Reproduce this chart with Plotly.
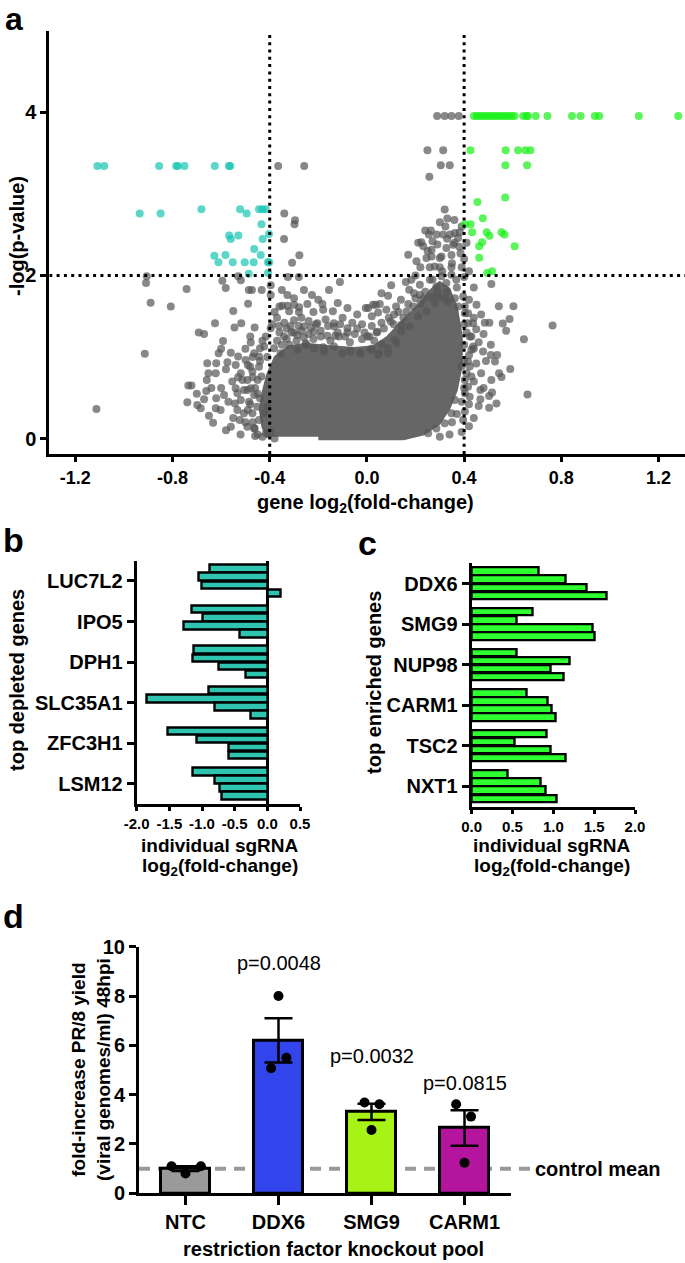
import plotly.graph_objects as go

W, H = 685, 1263
FONT = "Arial, 'Liberation Sans', sans-serif"

# ---------------- Panel a: volcano plot data ----------------
teal_x = [-1.109, -1.081, -0.855, -0.785, -0.778, -0.751, -0.626, -0.568, -0.562,
          -0.681, -0.522, -0.444, -0.430, -0.416,
          -0.935, -0.849, -0.495, -0.434, -0.403, -0.567, -0.529, -0.560, -0.429,
          -0.464, -0.628, -0.582, -0.437, -0.611, -0.552, -0.503, -0.466, -0.407, -0.402,
          -0.407, -0.486]
teal_y = [3.34, 3.34, 3.34, 3.34, 3.34, 3.34, 3.34, 3.34, 3.34,
          2.811, 2.811, 2.811, 2.811, 2.811,
          2.758, 2.758, 2.758, 2.627, 2.508, 2.49, 2.49, 2.446, 2.446,
          2.323, 2.242, 2.25, 2.25, 2.16, 2.16, 2.16, 2.16, 2.16, 2.16,
          2.03, 2.02]

green_x = [0.440, 0.452, 0.464, 0.476, 0.488, 0.500, 0.512, 0.524, 0.536, 0.548,
           0.560, 0.572, 0.584, 0.596, 0.608, 0.643, 0.657, 0.663, 0.695, 0.743,
           0.844, 0.879, 0.938, 0.956, 1.119, 1.281,
           0.426, 0.571, 0.622, 0.652, 0.673,
           0.570, 0.659, 0.569, 0.455, 0.477, 0.403, 0.427, 0.433, 0.493, 0.554,
           0.566, 0.504, 0.474, 0.462, 0.608, 0.462, 0.515, 0.495]
green_y = [3.955] * 26 + [3.533] * 5 + [3.349, 3.349, 2.954, 2.901, 2.70, 2.627, 2.627,
                                       2.528, 2.528, 2.528, 2.50, 2.487, 2.405, 2.356,
                                       2.356, 2.217, 2.05, 2.03]

gray_pts = [
    (0.289, 3.955), (0.320, 3.955), (0.348, 3.955), (0.378, 3.955),
    (0.249, 3.533), (0.314, 3.533), (0.304, 3.349), (0.341, 3.349), (0.257, 3.21),
    (-0.365, 3.34), (-0.258, 3.34),
    (-0.34, 2.76), (-0.296, 2.676), (-0.298, 2.627), (-0.341, 2.446), (-0.278, 2.246), (-0.308, 2.156),
    (-0.906, 1.988), (-0.909, 1.906), (-0.742, 1.832), (-0.89, 1.664), (-0.807, 1.62), (-0.914, 1.04),
    (-1.113, 0.362),
    (-0.595, 1.934), (-0.581, 1.844), (-0.53, 1.988), (-0.519, 1.94), (-0.486, 1.82), (-0.473, 1.82),
    (-0.433, 1.82), (-0.396, 1.88), (-0.396, 1.758), (-0.35, 1.82), (-0.327, 1.76), (-0.348, 1.627),
    (-0.327, 1.627), (-0.30, 1.64), (-0.279, 1.61), (-0.325, 1.98), (-0.28, 1.98), (-0.259, 1.82),
    (-0.226, 1.758), (-0.156, 1.82), (-0.111, 1.92), (-0.245, 1.65), (-0.183, 1.65),
    (-0.55, 1.562), (-0.489, 1.652), (-0.625, 1.414), (-0.692, 1.30), (-0.67, 1.28), (-0.545, 1.36),
    (-0.517, 1.414), (-0.462, 1.36), (-0.592, 1.197), (-0.478, 1.177), (-0.61, 1.046), (-0.53, 1.005),
    (-0.574, 0.935), (-0.54, 0.90), (-0.657, 0.923), (-0.62, 0.923), (-0.652, 0.80), (-0.622, 0.80),
    (-0.49, 0.90), (-0.48, 0.88), (-0.659, 0.718), (-0.735, 0.65), (-0.722, 0.65), (-0.661, 0.583),
    (-0.739, 0.444), (-0.698, 0.41), (-0.684, 0.37), (-0.62, 0.493), (-0.588, 0.534), (-0.622, 0.37),
    (-0.602, 0.35), (-0.633, 0.194), (-0.56, 0.145), (-0.523, 0.227), (-0.492, 0.145), (-0.464, 0.125),
    (-0.543, 0.43), (-0.533, 0.35), (-0.492, 0.718), (-0.492, 0.595), (-0.54, 0.616), (-0.506, 0.595),
    (-0.45, 0.718), (-0.444, 0.88), (-0.464, 1.046), (-0.44, 1.107), (-0.396, 1.353),
    (-0.478, 0.616), (-0.464, 0.534), (-0.485, 0.452), (-0.451, 0.39), (-0.471, 0.309), (-0.444, 0.227),
    (-0.462, 0.124), (-0.434, 0.759), (-0.44, 0.493), (-0.423, 0.309), (-0.416, 0.063), (-0.396, 0.083),
    (-0.506, 0.309), (-0.519, 0.473), (-0.512, 0.718), (-0.533, 0.554), (-0.554, 0.698), (-0.499, 0.964),
    (-0.519, 0.80), (-0.471, 0.82), (-0.444, 1.005), (-0.423, 1.128), (-0.416, 1.25),
    (-0.382, 1.107), (-0.355, 1.046), (-0.32, 1.148), (-0.286, 1.087), (-0.252, 1.169), (-0.218, 1.107),
    (-0.176, 1.066), (-0.135, 1.128), (-0.101, 1.046), (-0.067, 1.066), (-0.026, 1.046), (0.016, 1.087),
    (0.05, 1.046), (-0.341, 1.25), (-0.286, 1.27), (-0.218, 1.31), (-0.135, 1.373), (-0.08, 1.353),
    (-0.005, 1.6), (0.036, 1.64), (-0.259, 1.373), (-0.204, 1.414), (-0.163, 1.26), (-0.115, 1.25),
    (0.01, 1.25), (-0.362, 1.38), (-0.314, 1.38), (-0.136, 1.414), (-0.36, 1.30), (-0.30, 1.30),
    (-0.24, 1.28), (-0.35, 1.15), (-0.25, 1.15), (-0.18, 1.12), (-0.07, 1.18), (0.02, 1.10),
    (0.005, 1.60), (0.025, 1.64), (0.053, 1.65), (0.046, 1.545), (0.087, 1.75), (0.112, 1.52),
    (0.098, 1.435), (0.142, 1.394), (0.163, 1.558), (0.174, 1.824), (0.194, 1.78), (0.218, 1.76),
    (0.231, 1.717), (0.263, 1.734), (0.293, 1.742), (0.32, 1.72), (0.362, 1.72), (0.396, 1.742),
    (0.403, 1.62), (0.416, 1.537), (0.451, 1.64), (0.437, 1.414), (0.43, 1.25), (0.437, 1.128),
    (0.416, 0.944), (0.43, 0.76), (0.416, 0.636), (0.423, 0.513), (0.403, 0.33), (0.396, 0.227),
    (0.002, 1.25), (0.043, 1.31), (-0.029, 1.046), (0.06, 1.156), (0.122, 1.168), (0.087, 1.046),
    (0.32, 2.807), (0.331, 2.696), (0.323, 2.60), (0.263, 2.55), (0.255, 2.50), (0.287, 2.50),
    (0.314, 2.50), (0.342, 2.50), (0.362, 2.52), (0.382, 2.53), (0.224, 2.405), (0.232, 2.356),
    (0.266, 2.315), (0.17, 2.254), (0.204, 2.172), (0.266, 2.23), (0.307, 2.23), (0.348, 2.25),
    (0.385, 2.27), (0.259, 2.10), (0.30, 2.10), (0.348, 2.10), (0.40, 1.98), (0.211, 2.40),
    (0.245, 2.213), (0.279, 2.11), (0.3, 2.213), (0.327, 2.336), (0.355, 2.377), (0.375, 2.459),
    (0.259, 1.947), (0.307, 1.988), (0.348, 2.008), (0.218, 1.885), (0.183, 1.947), (0.286, 1.865),
    (0.327, 1.906), (0.368, 1.947),
    (0.512, 1.894), (0.543, 1.623), (0.603, 1.623), (0.764, 1.386), (0.559, 1.41), (0.573, 1.32),
    (0.587, 1.464), (0.485, 1.42), (0.504, 1.42), (0.646, 1.218), (0.51, 1.15), (0.478, 1.066),
    (0.51, 1.025), (0.536, 1.025), (0.527, 0.944), (0.59, 0.853), (0.544, 0.80), (0.554, 0.755),
    (0.512, 0.718), (0.661, 0.538), (0.467, 0.595), (0.515, 0.563), (0.503, 0.52), (0.467, 0.48),
    (0.533, 0.43), (0.503, 0.378),
    (0.362, 0.473), (0.348, 0.309), (0.32, 0.186), (0.286, 0.124), (0.252, 0.063), (0.403, 0.718),
    (0.403, 0.554), (0.389, 0.882), (0.423, 0.882), (0.43, 1.087), (0.423, 1.25), (0.416, 1.414),
    (0.403, 1.537), (0.375, 1.62), (0.334, 1.68), (0.279, 1.66), (0.245, 1.558), (0.211, 1.496),
    (0.176, 1.373), (0.142, 1.312), (0.115, 1.21), (0.087, 1.107), (0.046, 1.025),
    (-0.37, 1.20), (-0.33, 1.22), (-0.29, 1.20), (-0.26, 1.24), (-0.22, 1.22), (-0.19, 1.25),
    (-0.15, 1.20), (-0.12, 1.30), (-0.09, 1.25), (-0.05, 1.28), (-0.02, 1.22), (0.03, 1.20),
    (-0.34, 1.42), (-0.30, 1.45), (-0.27, 1.48), (-0.24, 1.44), (-0.17, 1.46), (-0.10, 1.48),
    (-0.06, 1.42), (-0.02, 1.40), (0.02, 1.38), (0.06, 1.42),
    (-0.38, 1.55), (-0.32, 1.56), (-0.22, 1.55), (-0.14, 1.56), (-0.04, 1.52),
    (0.24, 1.80), (0.27, 1.95), (0.29, 1.80), (0.31, 2.05), (0.33, 1.80), (0.35, 2.15),
    (0.37, 1.85), (0.39, 2.10), (0.38, 2.35), (0.36, 2.40), (0.33, 2.45), (0.29, 2.38),
    (0.25, 2.30), (0.22, 2.10), (0.20, 2.00), (0.16, 1.92), (0.14, 1.70), (0.12, 1.62), (0.19, 1.62),
    (0.40, 1.40), (0.41, 1.30), (0.40, 1.15), (0.42, 1.02), (0.40, 0.95), (0.41, 0.80),
    (0.44, 0.70), (0.40, 0.62), (0.42, 0.42), (0.39, 0.45), (0.37, 0.30), (0.35, 0.20),
    (0.45, 0.92), (0.46, 1.18), (0.45, 1.34), (0.47, 1.52),
    (-0.45, 0.05), (-0.43, 0.02), (-0.38, 0.00), (-0.47, 0.20), (-0.48, 0.42), (-0.46, 0.62),
    (-0.44, 0.95), (-0.41, 1.00),
    (-0.58, 0.10), (-0.55, 0.25), (-0.57, 0.45), (-0.60, 0.62), (-0.52, 0.05), (-0.50, 0.20),
    (-0.53, 0.75), (-0.47, 1.00), (-0.58, 0.85), (-0.64, 0.62), (-0.67, 0.48), (-0.65, 0.28),
    (-0.70, 0.55), (-0.60, 1.10), (-0.56, 1.05), (-0.50, 1.10), (-0.48, 1.25), (-0.43, 1.20),
    (-0.41, 0.40), (-0.47, 0.75), (-0.45, 0.55), (-0.49, 0.35), (-0.46, 0.03),
    (-0.39, 1.40), (-0.37, 1.48), (-0.33, 1.35), (-0.31, 1.30), (-0.28, 1.38), (-0.27, 1.32),
    (-0.23, 1.36), (-0.21, 1.40), (-0.19, 1.32), (-0.16, 1.38), (-0.13, 1.26), (-0.11, 1.40),
    (-0.08, 1.30), (-0.04, 1.35), (-0.01, 1.30), (0.04, 1.30), (0.07, 1.35), (0.09, 1.48),
    (0.11, 1.40), (0.13, 1.55), (0.15, 1.48), (0.17, 1.65), (0.20, 1.72), (0.22, 1.65),
    (-0.28, 1.55), (-0.18, 1.58), (-0.08, 1.60), (0.02, 1.50), (0.08, 1.58), (-0.36, 1.62),
    (-0.20, 1.70), (-0.12, 1.66), (-0.30, 1.72), (0.06, 1.78), (0.10, 1.88),
    (0.44, 0.25), (0.46, 0.40), (0.48, 0.62), (0.47, 0.80), (0.49, 0.95), (0.44, 1.10),
    (0.48, 1.28), (0.44, 1.48), (0.42, 1.70), (0.44, 1.85), (0.42, 2.05), (0.40, 2.20),
    (0.41, 2.40), (0.39, 2.60), (0.36, 2.68), (0.30, 2.65), (0.27, 2.42), (0.24, 2.55),
    (0.42, 0.15), (0.39, 0.08), (0.34, 0.05), (0.30, 0.02),
]
gray_x = [p[0] for p in gray_pts]
gray_y = [p[1] for p in gray_pts]

# outline of the solid, fully overlapping core of the gray cloud
core_x = [-0.40, -0.42, -0.43, -0.42, -0.40, -0.37, -0.32, -0.25, -0.15, -0.05, 0.03, 0.09, 0.14,
          0.19, 0.23, 0.27, 0.30, 0.33, 0.36, 0.38, 0.38, 0.36, 0.33, 0.29, 0.23, 0.15, 0.00, -0.20]
core_y = [0.02, 0.15, 0.35, 0.55, 0.78, 0.98, 1.10, 1.13, 1.10, 1.08, 1.10, 1.22, 1.38,
          1.52, 1.65, 1.80, 1.88, 1.82, 1.60, 1.25, 0.90, 0.60, 0.38, 0.20, 0.08, 0.02, 0.02, 0.02]

volcano_xticks = [-1.2, -0.8, -0.4, 0.0, 0.4, 0.8, 1.2]
volcano_xlabels = ["-1.2", "-0.8", "-0.4", "0.0", "0.4", "0.8", "1.2"]
volcano_yticks = [0, 2, 4]

# ---------------- Panels b and c: individual sgRNA log2 fold-changes ----------------
depleted_genes = ["LUC7L2", "IPO5", "DPH1", "SLC35A1", "ZFC3H1", "LSM12"]
depleted_lfc = [
    [-0.887, -1.044, -1.008, 0.21],
    [-1.165, -0.99, -1.28, -0.43],
    [-1.12, -1.15, -0.75, -0.33],
    [-0.90, -1.854, -0.80, -0.25],
    [-1.525, -1.086, -0.59, -0.59],
    [-1.149, -0.80, -0.737, -0.705],
]
enriched_genes = ["DDX6", "SMG9", "NUP98", "CARM1", "TSC2", "NXT1"]
enriched_lfc = [
    [0.82, 1.147, 1.414, 1.652],
    [0.746, 0.545, 1.476, 1.504],
    [0.545, 1.197, 0.97, 1.127],
    [0.668, 0.93, 0.984, 1.033],
    [0.914, 0.524, 0.963, 1.147],
    [0.438, 0.848, 0.91, 1.037],
]
b_xticks = [-2.0, -1.5, -1.0, -0.5, 0.0, 0.5]
b_xlabels = ["-2.0", "-1.5", "-1.0", "-0.5", "0.0", "0.5"]
c_xticks = [0.0, 0.5, 1.0, 1.5, 2.0]
c_xlabels = ["0.0", "0.5", "1.0", "1.5", "2.0"]

# ---------------- Panel d: knockout pools ----------------
pools = ["NTC", "DDX6", "SMG9", "CARM1"]
pool_mean = [1.0, 6.2, 3.3, 2.65]
pool_sem = [0.1, 0.9, 0.33, 0.72]
pool_reps = [[1.1, 0.8, 1.1], [8.0, 5.5, 5.07], [3.68, 3.61, 2.57], [3.61, 3.11, 1.24]]
pool_colors = ["#9a9a9a", "#3245ec", "#a8f316", "#b5159e"]
p_labels = ["p=0.0048", "p=0.0032", "p=0.0815"]
d_yticks = [0, 2, 4, 6, 8, 10]

# ---------------- layout helpers ----------------
def dx(a, b):
    return [a / W, b / W]

def dy(top, bottom):
    return [1 - bottom / H, 1 - top / H]

def tfont(size):
    return dict(family=FONT, size=size, color="black", weight="bold")

axis_common = dict(showline=True, linecolor="black", linewidth=3, ticks="outside",
                   tickcolor="black", tickwidth=3, showgrid=False, automargin=False,
                   fixedrange=True, tickangle=0)

fig = go.Figure()

# panel a
fig.add_trace(go.Scatter(x=core_x, y=core_y, mode="lines", fill="toself",
                         fillcolor="#666666", line=dict(color="#666666", width=7),
                         hoverinfo="skip", showlegend=False, xaxis="x", yaxis="y"))
fig.add_trace(go.Scatter(x=gray_x, y=gray_y, mode="markers",
                         marker=dict(size=8, color="#565656", opacity=0.7, line=dict(width=0)),
                         showlegend=False, xaxis="x", yaxis="y"))
fig.add_trace(go.Scatter(x=teal_x, y=teal_y, mode="markers",
                         marker=dict(size=8, color="#16c4b0", opacity=0.7, line=dict(width=0)),
                         showlegend=False, xaxis="x", yaxis="y"))
fig.add_trace(go.Scatter(x=green_x, y=green_y, mode="markers",
                         marker=dict(size=8, color="#16f016", opacity=0.7, line=dict(width=0)),
                         showlegend=False, xaxis="x", yaxis="y"))

# panels b and c: slot positions, 4 guides per gene, 5 slots per gene
def slots(groups):
    pos, vals = [], []
    for g, row in enumerate(groups):
        for k, v in enumerate(row):
            pos.append(5 * g + 1 + k)
            vals.append(v)
    return pos, vals

b_pos, b_vals = slots(depleted_lfc)
c_pos, c_vals = slots(enriched_lfc)
gene_ticks = [5 * g + 2.5 for g in range(6)]

fig.add_trace(go.Bar(x=b_vals, y=b_pos, orientation="h", width=0.92,
                     marker=dict(color="#2ec4b0", line=dict(color="black", width=2.4)),
                     showlegend=False, xaxis="x2", yaxis="y2"))
fig.add_trace(go.Bar(x=c_vals, y=c_pos, orientation="h", width=0.92,
                     marker=dict(color="#2eff2e", line=dict(color="black", width=2.4)),
                     showlegend=False, xaxis="x3", yaxis="y3"))

# panel d
fig.add_trace(go.Bar(x=list(range(4)), y=pool_mean, width=0.52,
                     marker=dict(color=pool_colors, line=dict(color="black", width=3)),
                     error_y=dict(type="data", array=pool_sem, color="black", thickness=2.5, width=14),
                     showlegend=False, xaxis="x4", yaxis="y4"))
jitter = [[-0.15, 0.0, 0.165], [0.0, 0.085, -0.08], [-0.075, 0.085, 0.0], [-0.09, 0.07, 0.0]]
pt_x, pt_y = [], []
for i, reps in enumerate(pool_reps):
    for j, v in enumerate(reps):
        pt_x.append(i + jitter[i][j])
        pt_y.append(v)
fig.add_trace(go.Scatter(x=pt_x, y=pt_y, mode="markers",
                         marker=dict(size=10, color="black"), showlegend=False,
                         xaxis="x4", yaxis="y4"))

d_dom_y = dy(946.7, 1193.3)
ctrl_y_paper = d_dom_y[0] + (pool_mean[0] - 0) / (10 - 0) * (d_dom_y[1] - d_dom_y[0])

fig.update_layout(
    width=W, height=H, margin=dict(l=0, r=0, t=0, b=0, autoexpand=False),
    paper_bgcolor="white", plot_bgcolor="rgba(0,0,0,0)",
    font=dict(family=FONT, color="black"),
    bargap=0,
    xaxis=dict(domain=dx(49.3, 685), range=[-1.307, 1.309], tickvals=volcano_xticks,
               ticktext=volcano_xlabels, ticklen=5, anchor="y", zeroline=False,
               tickfont=tfont(18), **axis_common),
    yaxis=dict(domain=dy(30.7, 454), range=[-0.19, 5.0], tickvals=volcano_yticks,
               ticklen=6, anchor="x", zeroline=False, tickfont=tfont(20), **axis_common),
    xaxis2=dict(domain=dx(136.7, 300), range=[-2.0, 0.5], tickvals=b_xticks, ticktext=b_xlabels,
                ticklen=4, anchor="y2", tickfont=tfont(15),
                zeroline=True, zerolinecolor="black", zerolinewidth=3, **axis_common),
    yaxis2=dict(domain=dy(560.7, 804), range=[30, 0], tickvals=gene_ticks, ticktext=depleted_genes,
                ticklen=7, anchor="x2", zeroline=False, tickfont=tfont(20), **axis_common),
    xaxis3=dict(domain=dx(471.7, 635), range=[0, 2.0], tickvals=c_xticks, ticktext=c_xlabels,
                ticklen=4, anchor="y3", zeroline=False, tickfont=tfont(15), **axis_common),
    yaxis3=dict(domain=dy(563.3, 806.7), range=[30, 0], tickvals=gene_ticks, ticktext=enriched_genes,
                ticklen=7, anchor="x3", zeroline=False, tickfont=tfont(20), **axis_common),
    xaxis4=dict(domain=dx(139, 511), range=[-0.5, 3.5], tickvals=list(range(4)), ticktext=pools,
                ticklen=9, anchor="y4", zeroline=False, tickfont=tfont(20), **axis_common),
    yaxis4=dict(domain=d_dom_y, range=[0, 10], tickvals=d_yticks, ticklen=7, anchor="x4",
                zeroline=False, tickfont=tfont(20), **axis_common),
)

shapes = []
dot = dict(color="black", width=3, dash="3px,4.3px")
for xv in (-0.4, 0.4):
    shapes.append(dict(type="line", xref="x", yref="y", x0=xv, x1=xv, y0=-0.19, y1=5.0, line=dot))
shapes.append(dict(type="line", xref="x", yref="y", x0=-1.307, x1=1.309, y0=2, y1=2, line=dot))
shapes.append(dict(type="line", xref="paper", yref="paper", x0=139 / W, x1=530 / W,
                   y0=ctrl_y_paper, y1=ctrl_y_paper, layer="below",
                   line=dict(color="#999999", width=4, dash="11px,8px")))
fig.update_layout(shapes=shapes)

def ann(text, px, py, size=19, bold=True, angle=0, xanchor="center", yanchor="middle"):
    return dict(text=text, x=px / W, y=1 - py / H, xref="paper", yref="paper", showarrow=False,
                textangle=angle, xanchor=xanchor, yanchor=yanchor,
                font=dict(family=FONT, size=size, color="black", weight="bold" if bold else "normal"))

annotations = [
    ann("a", 14, 19, size=32),
    ann("-log(p-value)", 17, 236, size=20, angle=-90),
    ann("gene log<sub>2</sub>(fold-change)", 366, 503, size=20),
    ann("b", 13, 540, size=34),
    ann("c", 367, 543, size=34),
    ann("top depleted genes", 17, 680, size=20, angle=-90),
    ann("top enriched genes", 374, 682, size=20, angle=-90),
    ann("individual sgRNA", 220, 845, size=19),
    ann("log<sub>2</sub>(fold-change)", 220, 867, size=19),
    ann("individual sgRNA", 552, 845, size=19),
    ann("log<sub>2</sub>(fold-change)", 552, 867, size=19),
    ann("d", 13, 916, size=34),
    ann("fold-increase PR/8 yield<br>(viral genomes/ml) 48hpi", 91, 1070, size=19, angle=-90),
    ann("restriction factor knockout pool", 333, 1249, size=20),
    dict(text="control mean", x=533 / W, y=ctrl_y_paper, xref="paper", yref="paper",
         showarrow=False, xanchor="left", yanchor="middle",
         font=dict(family=FONT, size=20, color="black", weight="bold")),
]
p_y = [9.33, 5.57, 4.46]
for i, lab in enumerate(p_labels):
    annotations.append(dict(text=lab, x=i + 1, y=p_y[i], xref="x4", yref="y4", showarrow=False,
                            xanchor="center", yanchor="middle",
                            font=dict(family=FONT, size=20, color="black")))
fig.update_layout(annotations=annotations)

fig.write_html("out.html", config={"displayModeBar": False},
               post_script="document.body.style.margin='0';document.body.style.overflow='hidden';")
